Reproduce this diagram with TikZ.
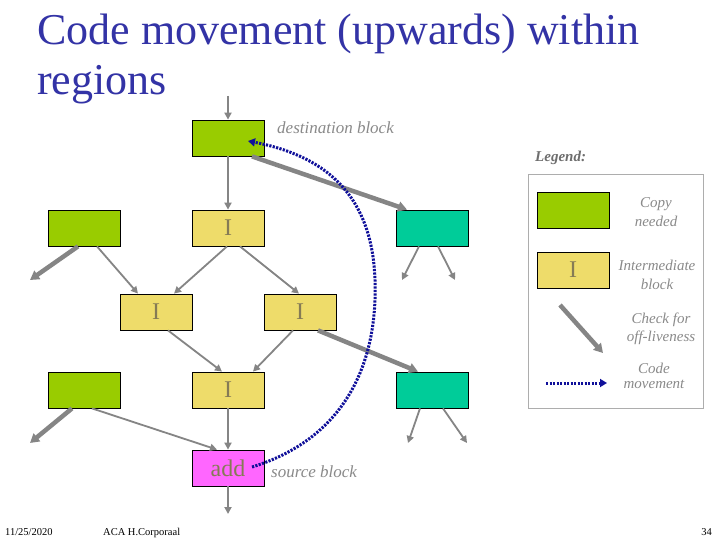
\documentclass[tikz,border=0pt]{standalone}
\usepackage{fontspec}
\setmainfont{Liberation Serif}
\usetikzlibrary{arrows.meta}
\definecolor{titleblue}{HTML}{3333A6}
\definecolor{cgreen}{HTML}{99CC00}
\definecolor{cteal}{HTML}{00CC99}
\definecolor{cyellow}{HTML}{EEDC6A}
\definecolor{cmag}{HTML}{FF66FF}
\definecolor{arrgray}{HTML}{858585}
\definecolor{txtgray}{HTML}{8A8A8A}
\definecolor{igray}{HTML}{857B55}
\definecolor{dotblue}{HTML}{10109A}
\tikzset{
  blk/.style={draw=black, line width=0.8pt, minimum width=72pt, minimum height=36pt, inner sep=0pt, text=igray, font=\fontsize{24}{24}\selectfont},
  gblk/.style={blk, fill=cgreen},
  tblk/.style={blk, fill=cteal},
  yblk/.style={blk, fill=cyellow},
  mblk/.style={blk, fill=cmag},
  thin arr/.style={draw=arrgray, line width=1.8pt, -{Triangle[length=7pt,width=7pt]}},
  thick arr/.style={draw=arrgray, line width=4.5pt, -{Triangle[length=9pt,width=10pt]}},
  move arr/.style={draw=dotblue, line width=3pt, dash pattern=on 2.2pt off 1.3pt, -{Triangle[length=7pt,width=8pt]}},
  lbl/.style={text=txtgray, font=\fontsize{17}{20}\selectfont\itshape, inner sep=0pt},
  leg/.style={text=txtgray, font=\fontsize{15}{18.5}\selectfont\itshape, align=center, inner sep=0pt},
  foot/.style={text=black, font=\fontsize{10.5}{12}\selectfont, inner sep=0pt, anchor=base west}
}
\begin{document}
\begin{tikzpicture}[x=1pt,y=-1pt]
\useasboundingbox (0,0) rectangle (720,540);
\fill[white] (0,0) rectangle (720,540);
% title
\node[anchor=base west, inner sep=0pt, text=titleblue, font=\fontsize{44}{50}\selectfont] (title1) at (37,45) {Code movement (upwards) within};
\node[anchor=base west, inner sep=0pt, text=titleblue, font=\fontsize{44}{50}\selectfont] (title2) at (37,95) {regions};
% blocks
\node[gblk] (dest) at (228,138) {};
\node[gblk] (gL1) at (84,228) {};
\node[yblk] (I1) at (228,228) {I};
\node[tblk] (tR1) at (432,228) {};
\node[yblk] (IL) at (156,312) {I};
\node[yblk] (IR) at (300,312) {I};
\node[gblk] (gL2) at (84,390) {};
\node[yblk] (I2) at (228,390) {I};
\node[tblk] (tR2) at (432,390) {};
\node[mblk] (add) at (228,468) {add};
% labels
\node[lbl, anchor=base west] (destlbl) at (277,134) {destination block};
\node[lbl, anchor=base west] (srclbl) at (271,477) {source block};
% free ends
\coordinate (topin) at (228,96);
\coordinate (e1) at (30,280);
\coordinate (e2) at (402,280);
\coordinate (e3) at (455,280);
\coordinate (e4) at (30,443);
\coordinate (e5) at (408,443);
\coordinate (e6) at (467,443);
\coordinate (e7) at (228,514);
% thin arrows
\draw[thin arr] (topin) -- (dest.north);
\draw[thin arr] (dest.south) -- (I1.north);
\draw[thin arr] ([xshift=13pt]gL1.south) -- ([xshift=-18pt]IL.north);
\draw[thin arr] ([xshift=-1pt]I1.south) -- ([xshift=18pt]IL.north);
\draw[thin arr] ([xshift=12pt]I1.south) -- ([xshift=-1pt]IR.north);
\draw[thin arr] ([xshift=-13pt]tR1.south) -- (e2);
\draw[thin arr] ([xshift=6pt]tR1.south) -- (e3);
\draw[thin arr] ([xshift=12pt]IL.south) -- ([xshift=-6pt]I2.north);
\draw[thin arr] ([xshift=-7pt]IR.south) -- ([xshift=25pt]I2.north);
\draw[thin arr] ([xshift=8pt]gL2.south) -- ([xshift=-11pt]add.north);
\draw[thin arr] (I2.south) -- (add.north);
\draw[thin arr] ([xshift=-12pt]tR2.south) -- (e5);
\draw[thin arr] ([xshift=11pt]tR2.south) -- (e6);
\draw[thin arr] (add.south) -- (e7);
% thick arrows
\draw[thick arr] ([xshift=24pt]dest.south) -- ([xshift=-25pt]tR1.north);
\draw[thick arr] ([xshift=-6pt]gL1.south) -- (e1);
\draw[thick arr] ([xshift=18pt]IR.south) -- ([xshift=-14pt]tR2.north);
\draw[thick arr] ([xshift=-12pt]gL2.south) -- (e4);
% code movement
\draw[move arr] ([xshift=24pt,yshift=1pt]add.center) .. controls (340,440) and (378,370) .. (375,280) .. controls (372,190) and (320,155) .. ([xshift=20pt,yshift=-3pt]dest.center);
% legend
\node[anchor=base west, inner sep=0pt, text=txtgray!80!black, font=\fontsize{15}{18}\selectfont\bfseries\itshape] (legtitle) at (535,162) {Legend:};
\node[draw=txtgray!70, line width=0.8pt, minimum width=175pt, minimum height=234pt, inner sep=0pt] (legbox) at (615.5,291) {};
\node[gblk] (lg) at (573,210) {};
\node[yblk] (ly) at (573,270) {I};
\node[leg] (lgt) at (656,212) {Copy\\needed};
\node[leg] (lyt) at (657,275) {Intermediate\\block};
\node[leg] (lct) at (661,329) {Check for\\off-liveness};
\node[leg, font=\fontsize{15}{15}\selectfont\itshape] (lmt) at (654,376) {Code\\movement};
\coordinate (la1) at (560,305);
\coordinate (la2) at (603,353);
\coordinate (lm1) at (546,383);
\coordinate (lm2) at (607,383);
\draw[thick arr] (la1) -- (la2);
\draw[move arr] (lm1) -- (lm2);
% footer
\node[foot] (date) at (5,535) {11/25/2020};
\node[foot] (auth) at (103,535) {ACA H.Corporaal};
\node[foot, anchor=base east] (page) at (712,535) {34};
\end{tikzpicture}
\end{document}
